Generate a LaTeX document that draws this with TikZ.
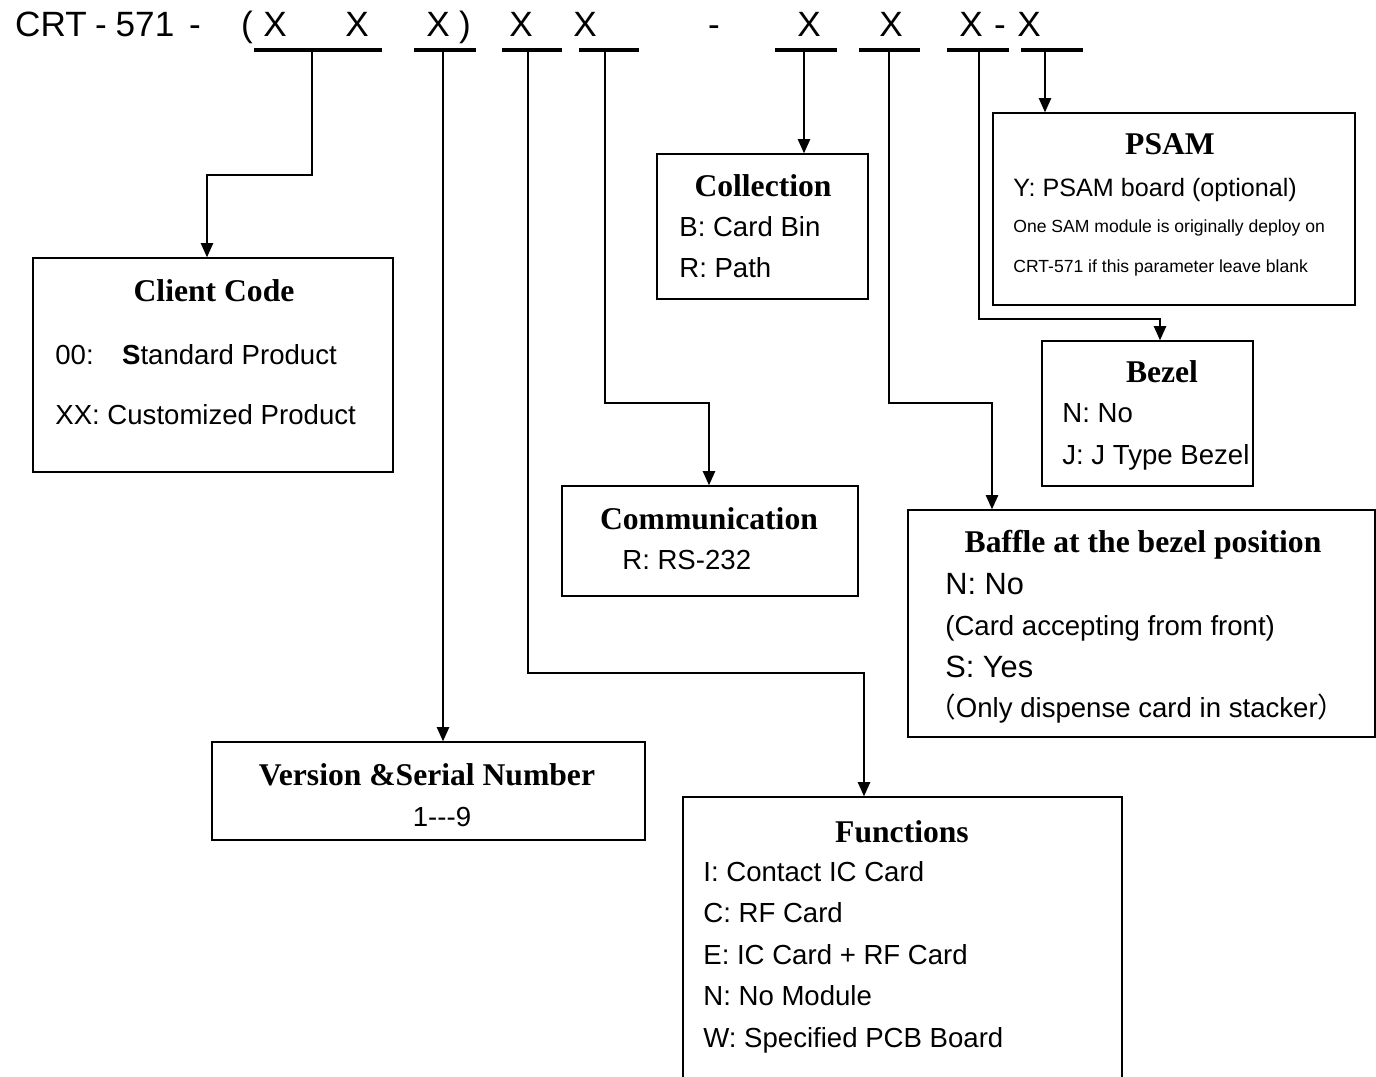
\documentclass[tikz,border=0pt]{standalone}
\usepackage{fontspec}
\setmainfont{Liberation Sans}
\newfontfamily\headfont{Liberation Serif}
\newfontfamily\cjkfont{Noto Sans CJK SC}
\usetikzlibrary{arrows.meta,fit}

\begin{document}
\begin{tikzpicture}[
        x=0.02cm, y=-0.02cm,
        box/.style  = {draw, line width=0.85pt, inner sep=0pt},
        head/.style = {font={\headfont\bfseries\fontsize{18}{20}\selectfont}, anchor=base, inner sep=0pt},
        txt/.style  = {font={\fontsize{15.7}{18}\selectfont}, anchor=base west, inner sep=0pt},
        big/.style  = {txt, font={\fontsize{17.5}{20}\selectfont}},
        small/.style = {txt, font={\fontsize{10}{12}\selectfont}},
        code/.style = {font={\fontsize{20}{24}\selectfont}, anchor=base, inner sep=0pt},
        arr/.style  = {-{Triangle[length=8pt,width=7pt]}, line width=0.75pt},
        uline/.style = {line width=2.3pt}
    ]
        \useasboundingbox (0,0) rectangle (1376,1077);

        % the order code
        \foreach \x/\t [count=\n] in {51/CRT, 101/-, 145/571, 195/-, 247/(, 275/X, 357/X, 438/X,
                465/), 521/X, 585/X, 714/-, 809/X, 891/X, 971/X, 1000/-, 1029/X}
            \node[code] (t\n) at (\x,37) {\t};
        \foreach \a/\b in {254/382, 414/476, 502/562, 579/639, 775/837, 859/920, 947/1009, 1021/1083}
            \draw[uline] (\a,50) -- (\b,50);
        \foreach \n/\x in {1/312, 2/443, 3/528, 4/605, 5/804, 6/889, 7/979, 8/1045}
            \coordinate (u\n) at (\x,50);

        % boxes
        \node[box, fit={(33,258) (393,472)}] (client) {};
        \node[head] (clienth) at (214,302) {Client Code};
        \node[txt] (client1) at (55,365) {\makebox[38pt][l]{00:}\textbf{S}tandard Product};
        \node[txt] (client2) at (55,425) {XX: Customized Product};

        \node[box, fit={(657,154) (868,299)}] (coll) {};
        \node[head] (collh) at (763,197) {Collection};
        \node[txt] (coll1) at (679,237) {B: Card Bin};
        \node[txt] (coll2) at (679,278) {R: Path};

        \node[box, fit={(993,113) (1355,305)}] (psam) {};
        \node[head] (psamh) at (1170,155) {PSAM};
        \node[txt, font={\fontsize{14.3}{17}\selectfont}] (psam1) at (1013,197) {Y: PSAM board (optional)};
        \node[small] (psam2) at (1013,233) {One SAM module is originally deploy on};
        \node[small] (psam3) at (1013,273) {CRT-571 if this parameter leave blank};

        \node[box, fit={(1042,341) (1253,486)}] (bezel) {};
        \node[head] (bezelh) at (1162,383) {Bezel};
        \node[txt] (bezel1) at (1062,423) {N: No};
        \node[txt] (bezel2) at (1062,465) {J: J Type Bezel};

        \node[box, fit={(562,486) (858,596)}] (comm) {};
        \node[head] (commh) at (709,530) {Communication};
        \node[txt] (comm1) at (622,570) {R: RS-232};

        \node[box, fit={(908,510) (1375,737)}] (baffle) {};
        \node[head] (baffleh) at (1143,553) {Baffle at the bezel position};
        \node[big] (baffle1) at (945,595) {N: No};
        \node[txt] (baffle2) at (945,635) {(Card accepting from front)};
        \node[big] (baffle3) at (945,677) {S: Yes};
        \node[txt] (baffle4) at (928,717) {{\cjkfont （}Only dispense card in stacker{\cjkfont ）}};

        \node[box, fit={(212,742) (645,840)}] (ver) {};
        \node[head] (verh) at (427,785) {Version \&Serial Number};
        \node[txt, anchor=base] (ver1) at (442,826) {1{-}{-}{-}9};

        \node[box, fit={(683,797) (1122,1095)}] (func) {};
        \node[head] (funch) at (902,842) {Functions};
        \foreach \y/\t [count=\n] in {881/I: Contact IC Card, 922/C: RF Card, 964/E: IC Card + RF Card,
                1005/N: No Module, 1047/W: Specified PCB Board}
            \node[txt] (func\n) at (703,\y) {\t};

        % connectors
        \coordinate (k1) at (207,175);
        \coordinate (k3) at (864,673);
        \coordinate (k4) at (709,403);
        \coordinate (k6) at (992,403);
        \coordinate (k7) at (1160,319);
        \draw[arr] (u1) |- (k1) -- (k1 |- client.north);
        \draw[arr] (u2) -- (u2 |- ver.north);
        \draw[arr] (u3) |- (k3) -- (k3 |- func.north);
        \draw[arr] (u4) |- (k4) -- (k4 |- comm.north);
        \draw[arr] (u5) -- (u5 |- coll.north);
        \draw[arr] (u6) |- (k6) -- (k6 |- baffle.north);
        \draw[arr] (u7) |- (k7) -- (k7 |- bezel.north);
        \draw[arr] (u8) -- (u8 |- psam.north);
    \end{tikzpicture}
\end{document}
